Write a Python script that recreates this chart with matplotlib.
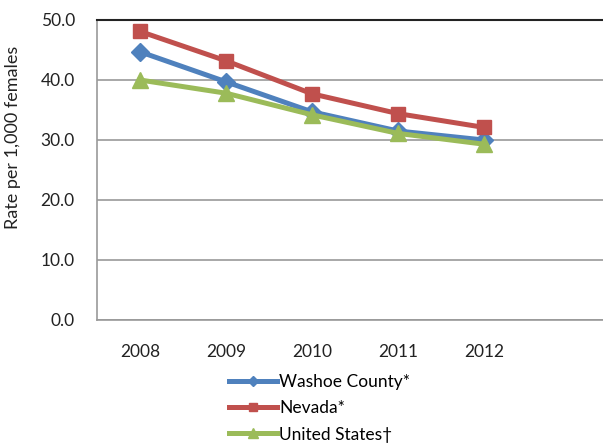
import matplotlib.pyplot as plt

years = ["2008", "2009", "2010", "2011", "2012"]
washoe = [44.7, 39.7, 34.7, 31.5, 30.0]
nevada = [48.1, 43.2, 37.7, 34.4, 32.1]
united_states = [40.0, 37.8, 34.2, 31.1, 29.3]

plt.rcParams['font.family'] = ['Lato', 'DejaVu Sans']

fig = plt.figure(figsize=(6.03, 4.43), dpi=100)
ax = fig.add_axes([97 / 603, 1 - 320 / 443, 1 - 97 / 603, 300 / 443])

x = list(range(len(years)))
ax.plot(x, washoe, color='#4F81BD', lw=3.6, marker='D', ms=9, label='Washoe County*', zorder=3)
ax.plot(x, nevada, color='#C0504D', lw=3.6, marker='s', ms=10, label='Nevada*', zorder=3)
ax.plot(x, united_states, color='#9BBB59', lw=3.6, marker='^', ms=11, label='United States\u2020', zorder=4)

ax.set_ylim(0, 50)
ax.set_xlim(-0.5, -0.5 + 506 / 86)
ax.set_yticks([0, 10, 20, 30, 40, 50])
ax.set_yticklabels([f"{v:.1f}" for v in [0, 10, 20, 30, 40, 50]])
ax.set_xticks(x)
ax.set_xticklabels(years)
ax.tick_params(axis='both', length=0, labelsize=12.5, colors='#222222')
ax.tick_params(axis='y', pad=16)
ax.tick_params(axis='x', pad=17)

ax.grid(axis='y', color='#999999', lw=1.2)
ax.set_axisbelow(True)
ax.spines['right'].set_visible(False)
ax.spines['top'].set_color('#222222')
ax.spines['top'].set_linewidth(1.5)
ax.spines['left'].set_color('#999999')
ax.spines['bottom'].set_color('#999999')
ax.spines['left'].set_linewidth(1.2)
ax.spines['bottom'].set_linewidth(1.2)

ax.set_ylabel('Rate per 1,000 females', fontsize=13, color='#222222')
ax.yaxis.set_label_coords(-0.15, 0.61)

fig.legend(loc='upper left', bbox_to_anchor=(220 / 603, 1 - 365 / 443), frameon=False,
           fontsize=12.5, handlelength=2.8, handletextpad=0.1, labelspacing=0.6,
           borderpad=0, markerscale=0.6)

fig.savefig('out.png', dpi=100)
